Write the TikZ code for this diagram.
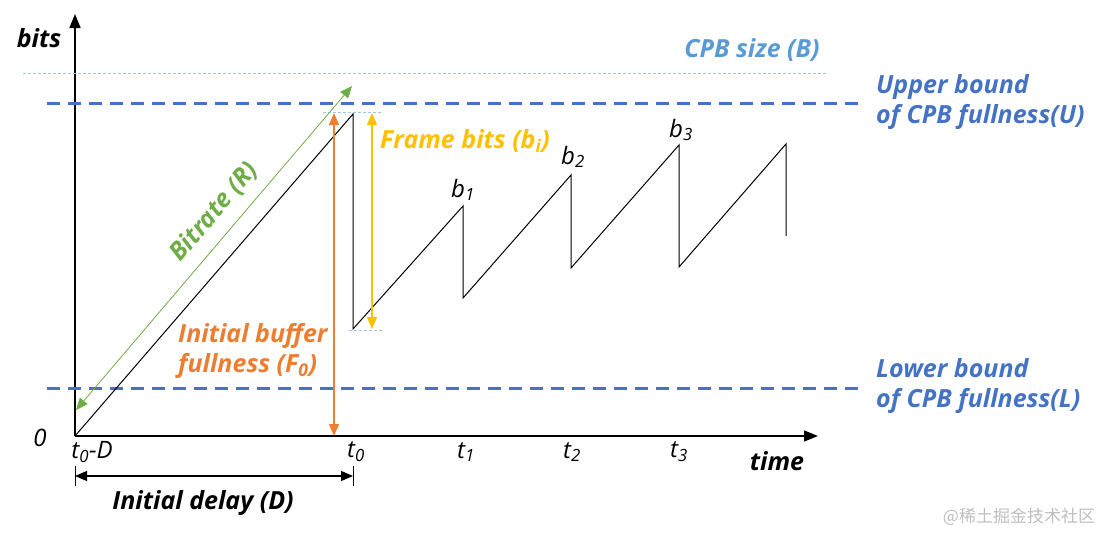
\documentclass[tikz,border=0pt]{standalone}
\usepackage{fontspec}
\setmainfont{Open Sans}
\newfontfamily\cjkfont{Noto Sans CJK SC}
\usetikzlibrary{positioning,arrows.meta}

\definecolor{boundblue}{HTML}{4472C4}
\definecolor{sizeblue}{HTML}{5B9BD5}
\definecolor{sizeline}{HTML}{9DC3E6}
\definecolor{rategreen}{HTML}{70AD47}
\definecolor{fullorange}{HTML}{ED7D31}
\definecolor{framegold}{HTML}{FFC000}

\tikzset{
  lbl/.style={font=\fontsize{25}{30}\selectfont\bfseries\itshape, inner sep=0pt, align=left},
  sym/.style={font=\fontsize{24}{26}\selectfont\itshape, inner sep=0pt},
  axis/.style={line width=1.6pt, -{Triangle[length=14pt,width=11pt]}},
  saw/.style={line width=1pt},
  bound/.style={draw=boundblue, line width=3pt, dash pattern=on 13pt off 8pt},
  sizeln/.style={draw=sizeline, line width=1pt, dash pattern=on 3pt off 2pt},
  twohead/.style={{Triangle[length=12pt,width=10pt]}-{Triangle[length=12pt,width=10pt]}},
}

\begin{document}
\begin{tikzpicture}[x=1pt,y=-1pt]
  \useasboundingbox (0,0) rectangle (1106,533);

  % axes
  \coordinate (O) at (75,436);
  \coordinate (ytop) at (75,14);
  \coordinate (xend) at (818,436);
  \draw[axis] (O) -- (ytop);
  \draw[axis] (O) -- (xend);
  \node[lbl] (bits) at (39,38) {bits};
  \node[lbl] (time) at (777,461) {time};
  \node[sym] (zero) at (40,438) {0};

  % bounds
  \draw[sizeln] (23,73) -- (827,73);
  \node[lbl, text=sizeblue] (cpbsize) at (752,50) {CPB size (B)};
  \draw[bound] (47,103) -- (865,103);
  \draw[bound] (47,388) -- (865,388);
  \node[lbl, text=boundblue, anchor=west] (upper) at (876,102) {Upper bound\\of CPB fullness(U)};
  \node[lbl, text=boundblue, anchor=west] (lower) at (876,386) {Lower bound\\of CPB fullness(L)};

  % buffer fullness
  \coordinate (s0) at (353,114);
  \coordinate (d0) at (353,329);
  \coordinate (s1) at (463,206);
  \coordinate (d1) at (463,298);
  \coordinate (s2) at (571,175);
  \coordinate (d2) at (571,268);
  \coordinate (s3) at (679,145);
  \coordinate (d3) at (679,267);
  \coordinate (s4) at (786,144);
  \coordinate (d4) at (786,236);
  \draw[saw] (O) -- (s0) -- (d0) -- (s1) -- (d1) -- (s2) -- (d2) -- (s3) -- (d3) -- (s4) -- (d4);
  \draw[sizeln] (323,112) -- (383,112);
  \draw[sizeln] (349,330) -- (384,330);

  % bitrate
  \coordinate (g0) at (76,410);
  \coordinate (g1) at (352,86);
  \draw[twohead, rategreen, line width=0.8pt] (g0) -- (g1);
  \node[lbl, text=rategreen, rotate=49.6] (rate) at (214,212) {Bitrate (R)};

  % initial buffer fullness
  \coordinate (f0) at (334,113);
  \coordinate (f1) at (334,436);
  \draw[twohead, fullorange, line width=1.2pt] (f1) -- (f0);
  \node[lbl, text=fullorange, anchor=west] (full) at (178,351) {Initial buffer\\fullness (F\textsubscript{0})};

  % frame bits
  \coordinate (k0) at (372,113);
  \coordinate (k1) at (372,329);
  \draw[twohead, framegold, line width=1.2pt] (k0) -- (k1);
  \node[lbl, text=framegold, anchor=west] (frame) at (380,141) {Frame bits (b\textsubscript{i})};

  \node[sym] (b1) at (463,190) {b\textsubscript{1}};
  \node[sym] (b2) at (573,157) {b\textsubscript{2}};
  \node[sym] (b3) at (681,130) {b\textsubscript{3}};

  % time marks
  \node[sym] (tD) at (92,452) {t\textsubscript{0}-D};
  \node[sym] (t0) at (356,452) {t\textsubscript{0}};
  \node[sym] (t1) at (466,452) {t\textsubscript{1}};
  \node[sym] (t2) at (572,452) {t\textsubscript{2}};
  \node[sym] (t3) at (679,452) {t\textsubscript{3}};

  % initial delay
  \coordinate (e0) at (75,476);
  \coordinate (e1) at (353,476);
  \draw[line width=1pt] (75,466) -- (75,486) (353,466) -- (353,486);
  \draw[twohead, line width=1.2pt] (e0) -- (e1);
  \node[lbl] (delay) at (203,503) {Initial delay (D)};

  \node[font=\cjkfont\fontsize{17}{20}\selectfont, text=black!25, inner sep=0pt] (mark) at (1019,517) {@稀土掘金技术社区};
\end{tikzpicture}
\end{document}
